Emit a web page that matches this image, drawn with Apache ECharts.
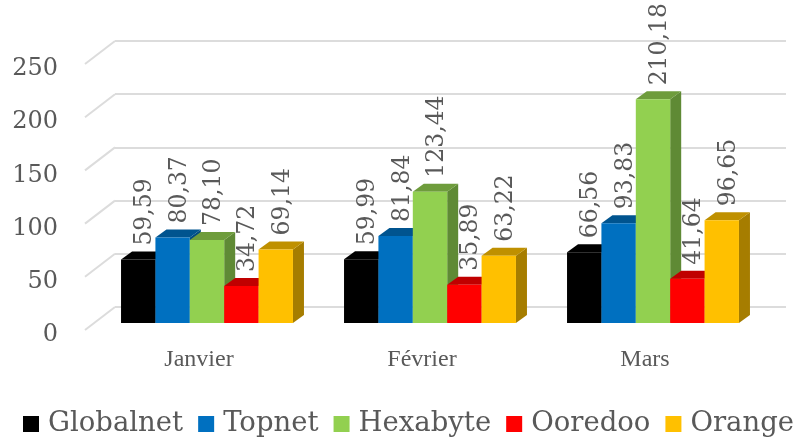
<!DOCTYPE html>
<html><head><meta charset="utf-8">
<style>html,body{margin:0;padding:0;background:#fff}#c{width:801px;height:438px}</style>
<script src="https://cdn.jsdelivr.net/npm/echarts@6/dist/echarts.min.js"></script>
</head><body><div id="c"></div>
<script>
const categories = ['Janvier', 'Février', 'Mars'];
const seriesNames = ['Globalnet', 'Topnet', 'Hexabyte', 'Ooredoo', 'Orange'];
const globalnet = [59.59, 59.99, 66.56];
const topnet = [80.37, 81.84, 93.83];
const hexabyte = [78.10, 123.44, 210.18];
const ooredoo = [34.72, 35.89, 41.64];
const orange = [69.14, 63.22, 96.65];
const yTicks = [0, 50, 100, 150, 200, 250];
const seriesValues = [globalnet, topnet, hexabyte, ooredoo, orange];
const front = ['#000000', '#0070C0', '#92D050', '#FF0000', '#FFC000'];
const tops = ['#000000', '#00548F', '#6E9C3C', '#C00000', '#BF9000'];
const sides = ['#000000', '#004A80', '#5F8A35', '#A00000', '#A67D00'];

const DX = 11, DY = 8, GROUP = 0.771;
const FONT = '"DejaVu Serif"';
const chart = echarts.init(document.getElementById('c'), null, {renderer: 'canvas'});

function barRender(si) {
  return function (params, api) {
    const i = api.value(0), v = api.value(1);
    const top = api.coord([i, v]), base = api.coord([i, 0]);
    const band = api.size([1, 0])[0];
    const w = band * GROUP / seriesValues.length;
    const x0 = top[0] - band * GROUP / 2 + si * w, x1 = x0 + w;
    const yt = top[1], yb = base[1];
    return {type: 'group', children: [
      {type: 'polygon', shape: {points: [[x1, yt], [x1 + DX, yt - DY], [x1 + DX, yb - DY], [x1, yb]]}, style: {fill: sides[si]}},
      {type: 'polygon', shape: {points: [[x0, yt], [x0 + DX, yt - DY], [x1 + DX, yt - DY], [x1, yt]]}, style: {fill: tops[si]}},
      {type: 'rect', shape: {x: x0, y: yt, width: x1 - x0, height: yb - yt}, style: {fill: front[si]}},
      {type: 'text', z2: 100, x: (x0 + x1) / 2 + 7, y: yt - DY - 6, rotation: Math.PI / 2,
        style: {text: v.toFixed(2).replace('.', ','), fill: '#595959', font: '23.5px ' + FONT, textAlign: 'left', textVerticalAlign: 'middle'}}
    ]};
  };
}

const option = {
  animation: false,
  backgroundColor: '#fff',
  grid: [
    {left: 115, right: 15, top: 41, bottom: 131},
    {left: 85, width: 669, top: 69, bottom: 103},
    {left: 95.5, width: 669, top: 57, bottom: 115}
  ],
  xAxis: [
    {gridIndex: 0, type: 'category', data: categories, show: false},
    {gridIndex: 1, type: 'category', data: categories, axisLine: {show: false}, axisTick: {show: false},
      axisLabel: {color: '#595959', fontFamily: '"Liberation Serif"', fontSize: 24, margin: 13, padding: [0, 0, 0, 5]}},
    {gridIndex: 2, type: 'category', data: categories, show: false}
  ],
  yAxis: [
    {gridIndex: 0, type: 'value', min: 0, max: 250, interval: 50, axisLabel: {show: false}, axisLine: {show: false}, axisTick: {show: false},
      splitLine: {lineStyle: {color: '#DCDCDC', width: 2}}},
    {gridIndex: 1, type: 'value', min: 0, max: 250, interval: 50, axisLine: {show: false}, axisTick: {show: false}, splitLine: {show: false},
      axisLabel: {color: '#595959', fontFamily: FONT, fontSize: 24, margin: 27}},
    {gridIndex: 2, type: 'value', min: 0, max: 250, interval: 50, show: false}
  ],
  legend: {
    left: 18, top: 405, itemWidth: 16, itemHeight: 16, itemGap: 15, icon: 'rect',
    data: seriesNames,
    textStyle: {color: '#595959', fontFamily: FONT, fontSize: 27.5, padding: [0, 0, 0, 4]}
  },
  series: [
    {type: 'custom', xAxisIndex: 0, yAxisIndex: 0, silent: true, data: yTicks.map(t => [0, t]),
      encode: {x: 0, y: 1},
      renderItem: function (params, api) {
        const p = api.coord([0, api.value(1)]);
        const x = p[0] - api.size([1, 0])[0] / 2;
        return {type: 'line', shape: {x1: x, y1: p[1], x2: x - 30, y2: p[1] + 23},
          style: {stroke: '#DCDCDC', lineWidth: 2}};
      }}
  ].concat(seriesNames.map((name, si) => ({
    name, type: 'custom', xAxisIndex: 2, yAxisIndex: 2,
    itemStyle: {color: front[si]},
    data: seriesValues[si].map((v, i) => [i, v]),
    encode: {x: 0, y: 1},
    renderItem: barRender(si)
  })))
};
chart.setOption(option);
</script></body></html>
